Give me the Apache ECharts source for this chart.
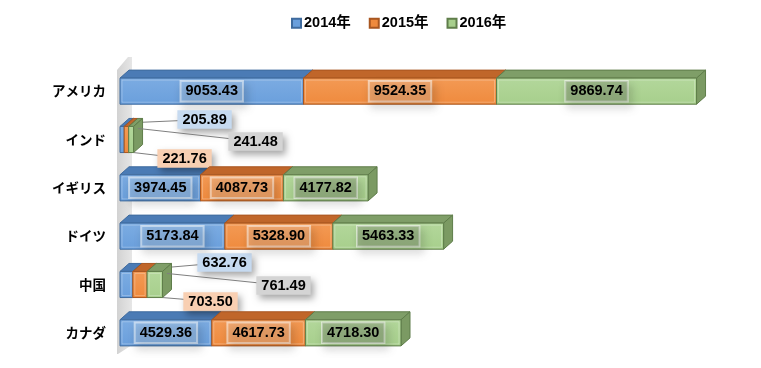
<!DOCTYPE html>
<html><head><meta charset="utf-8">
<script src="https://cdn.jsdelivr.net/npm/echarts@6/dist/echarts.min.js"></script>
<style>html,body{margin:0;padding:0;background:#fff}#c{width:761px;height:368px}</style>
</head><body><div id="c"></div>
<script>
// ---- data ----
const categories = ['アメリカ','インド','イギリス','ドイツ','中国','カナダ'];
const seriesNames = ['2014年','2015年','2016年'];
const v2014 = [9053.43, 205.89, 3974.45, 5173.84, 632.76, 4529.36];
const v2015 = [9524.35, 221.76, 4087.73, 5328.90, 703.50, 4617.73];
const v2016 = [9869.74, 241.48, 4177.82, 5463.33, 761.49, 4718.30];
const xMax = 30000;

// ---- style ----
const FONT = "'Liberation Sans', Arial, 'Noto Sans CJK JP', sans-serif";
const DX = 9, DY = 8;
const palette = [
  {front:'#6a9fdc', frontLight:'#7cacE2', top:'#4b7bb5', side:'#4673aa', edge:'#3f6b9e',
   lbl:'rgba(200,222,245,0.30)', callout:'#c6daf0'},
  {front:'#ef8a3d', frontLight:'#f39a55', top:'#c0662a', side:'#b85f26', edge:'#a85620',
   lbl:'rgba(250,210,180,0.30)', callout:'#f8cfb2'},
  {front:'#a7cf8c', frontLight:'#b3d79b', top:'#7f9e68', side:'#7b9a63', edge:'#5f7d4a',
   lbl:'rgba(120,130,110,0.30)', callout:'#d4d4d4'}
];
// callout label offsets (relative to end of whole bar, bar centre) for thin bars
const callouts = {
  1: [[71,-20],[51,19],[122,2]],
  4: [[62,-22],[48,17],[121,1]]
};

const vals = [v2014, v2015, v2016];
const totals = categories.map((_, i) => v2014[i] + v2015[i] + v2016[i]);

function seriesData(si){
  return categories.map((_, i) => {
    let start = 0;
    for (let k = 0; k < si; k++) start += vals[k][i];
    return [i, start, start + vals[si][i], vals[si][i], totals[i]];
  });
}

function makeRender(si){
  const c = palette[si];
  return function(params, api){
    const cat = api.value(0), s = api.value(1), e = api.value(2), v = api.value(3), tot = api.value(4);
    const p0 = api.coord([s, cat]), p1 = api.coord([e, cat]), pe = api.coord([tot, cat]);
    const h = api.size([0, 1])[1] * 0.54;
    const x0 = p0[0], x1 = p1[0], yc = p0[1], yT = yc - h/2, yB = yc + h/2;
    const ch = [];
    ch.push({type:'polygon', shape:{points:[[x0,yT],[x0+DX,yT-DY],[x1+DX,yT-DY],[x1,yT]]},
      style:{fill:c.top, stroke:c.edge, lineWidth:1}});
    ch.push({type:'polygon', shape:{points:[[x1,yT],[x1+DX,yT-DY],[x1+DX,yB-DY],[x1,yB]]},
      style:{fill:c.side, stroke:c.edge, lineWidth:1}});
    ch.push({type:'rect', shape:{x:x0, y:yT, width:x1-x0, height:h},
      style:{fill:new echarts.graphic.LinearGradient(0,0,0,1,[{offset:0,color:c.frontLight},{offset:1,color:c.front}]),
             stroke:c.edge, lineWidth:1}});
    if (x1 - x0 > 6) {
      ch.push({type:'rect', shape:{x:x0+2, y:yT+2, width:x1-x0-4, height:h-4},
        style:{fill:'none', stroke:'rgba(255,255,255,0.25)', lineWidth:1}});
    }
    const txt = v.toFixed(2);
    const co = callouts[cat];
    if (co) {
      const lx = pe[0] + co[si][0], ly = yc + co[si][1];
      let sx, sy;
      if (si === 0) { sx = pe[0] + DX/2; sy = yT - DY/2; }
      else if (si === 2) { sx = pe[0] + DX/2; sy = yT + 2; }
      else { sx = pe[0]; sy = yB; }
      ch.push({type:'line', shape:{x1:sx, y1:sy, x2:lx, y2:ly}, style:{stroke:'#7f7f7f', lineWidth:1}});
      ch.push({type:'text', x:lx, y:ly, style:{text:txt, fill:'#000', font:'bold 14.5px ' + FONT,
        align:'center', verticalAlign:'middle', backgroundColor:c.callout, padding:[2,5],
        shadowBlur:7, shadowColor:'rgba(0,0,0,0.35)', shadowOffsetX:3, shadowOffsetY:4}});
    } else {
      ch.push({type:'text', x:(x0+x1)/2, y:yc, style:{text:txt, fill:'#000', font:'bold 14.5px ' + FONT,
        align:'center', verticalAlign:'middle', backgroundColor:c.lbl,
        borderColor:'rgba(255,255,255,0.55)', borderWidth:1, padding:[3,5],
        shadowBlur:8, shadowColor:'rgba(0,0,0,0.4)', shadowOffsetX:3, shadowOffsetY:5}});
    }
    return {type:'group', children:ch};
  };
}

function renderWall(params, api){
  const cs = params.coordSys;
  const x0 = cs.x, yTop = cs.y, yBot = cs.y + cs.height;
  return {type:'polygon', shape:{points:[
      [x0-3, yTop+3],[x0+8, yTop-10],[x0+12, yTop-10],[x0+12, yBot-12],[x0-2, yBot-3],[x0-3, yBot-3]]},
    style:{fill:new echarts.graphic.LinearGradient(0,0,1,0,[{offset:0,color:'#d2d2d2'},{offset:1,color:'#e6e6e6'}])},
    silent:true};
}

const chart = echarts.init(document.getElementById('c'), null, {renderer:'canvas'});
const series = [{type:'custom', name:'wall', renderItem:renderWall, data:[[0,0]], encode:{x:0,y:1}, silent:true, z:1}];
seriesNames.forEach((n, si) => {
  series.push({type:'custom', name:n, renderItem:makeRender(si), data:seriesData(si),
    encode:{x:[1,2], y:0}, itemStyle:{color:palette[si].front, borderColor:palette[si].edge, borderWidth:1}, z:2+si});
});

chart.setOption({
  animation:false,
  backgroundColor:'#fff',
  legend:{data:seriesNames, top:11, left:286, itemWidth:9, itemHeight:9, itemGap:18, icon:'rect',
    textStyle:{fontWeight:'bold', fontSize:14.5, fontFamily:FONT, color:'#000', padding:[0,0,0,-2]}},
  grid:{left:120, right:33, top:67, bottom:11, containLabel:false},
  xAxis:{type:'value', min:0, max:xMax, show:false},
  yAxis:{type:'category', data:categories, inverse:true,
    axisLine:{show:false}, axisTick:{show:false}, splitLine:{show:false},
    axisLabel:{margin:14, color:'#000', fontWeight:'bold', fontSize:13.5, fontFamily:"'Noto Sans CJK JP', sans-serif"}},
  series:series
});
</script></body></html>
